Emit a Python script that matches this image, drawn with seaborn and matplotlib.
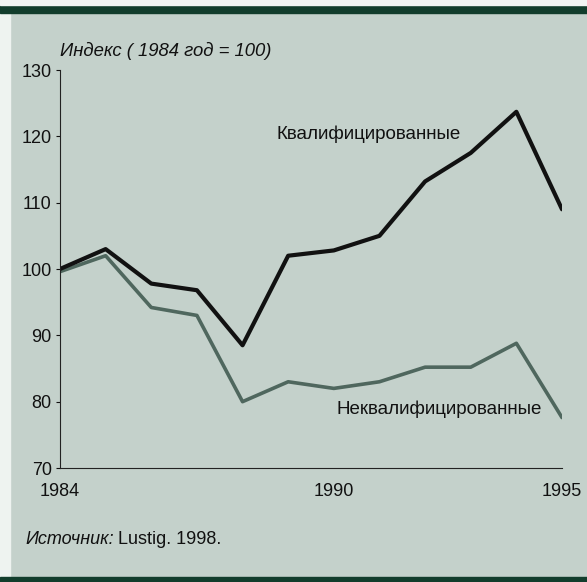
import pandas as pd
import matplotlib.pyplot as plt
import seaborn as sns
from matplotlib.patches import Rectangle

# Daten
years = [1984, 1985, 1986, 1987, 1988, 1989, 1990, 1991, 1992, 1993, 1994, 1995]
skilled = [100, 103, 97.8, 96.8, 88.5, 102, 102.8, 105, 113.2, 117.5, 123.7, 109]
unskilled = [99.6, 102, 94.2, 93, 80, 83, 82, 83, 85.2, 85.2, 88.8, 77.6]
label_skilled = "Квалифицированные"
label_unskilled = "Неквалифицированные"
y_ticks = [70, 80, 90, 100, 110, 120, 130]
x_ticks = [1984, 1990, 1995]

bg = "#c4d1cb"

sns.set_style("ticks")
plt.rcParams["font.family"] = ["Liberation Sans", "DejaVu Sans"]
plt.rcParams["text.color"] = "#111111"
plt.rcParams["xtick.color"] = "#111111"
plt.rcParams["ytick.color"] = "#111111"
plt.rcParams["axes.edgecolor"] = "#222222"

df = pd.DataFrame({"year": years, "skilled": skilled, "unskilled": unskilled})

fig = plt.figure(figsize=(5.87, 5.82), dpi=100, facecolor=bg)
# Rahmen: heller Streifen links, dunkle Balken oben und unten
fig.patches.append(Rectangle((0, 0), 10 / 587, 1, transform=fig.transFigure, color="#eef3f0", zorder=0))
fig.patches.append(Rectangle((0, 1 - 13 / 582), 1, 8 / 582, transform=fig.transFigure, color="#123d2c", zorder=1))
fig.patches.append(Rectangle((0, 1 - 5 / 582), 1, 5 / 582, transform=fig.transFigure, color="#f2f5f3", zorder=1))
fig.patches.append(Rectangle((0, 0), 1, 5 / 582, transform=fig.transFigure, color="#123d2c", zorder=1))

ax = fig.add_axes([60 / 587, 1 - 468 / 582, 502 / 587, 398 / 582])
ax.set_facecolor(bg)

sns.lineplot(data=df, x="year", y="unskilled", ax=ax, color="#4f675e", linewidth=2.6)
sns.lineplot(data=df, x="year", y="skilled", ax=ax, color="#111111", linewidth=3.0)

ax.set_xlim(1984, 1995)
ax.set_ylim(70, 130)
ax.set_xticks(x_ticks)
ax.set_yticks(y_ticks)
ax.tick_params(axis="y", length=3, width=0.8, labelsize=13, pad=3)
ax.tick_params(axis="x", length=0, labelsize=13, pad=11)
ax.set_xlabel("")
ax.set_ylabel("")
sns.despine(ax=ax)
ax.spines["left"].set_linewidth(0.8)
ax.spines["bottom"].set_linewidth(0.8)

ax.text(1984.0, 132.8, "Индекс ( 1984 год = 100)", fontsize=13.3, style="italic", va="center")
ax.text(1988.75, 120.3, label_skilled, fontsize=13.5, va="center")
ax.text(1990.05, 78.9, label_unskilled, fontsize=13.5, va="center")

fig.text(25 / 587, 1 - 540 / 582, "Источник:", fontsize=13, style="italic", va="center")
fig.text(118 / 587, 1 - 540 / 582, "Lustig. 1998.", fontsize=13, va="center")

fig.savefig("out.png", dpi=100, facecolor=bg)
